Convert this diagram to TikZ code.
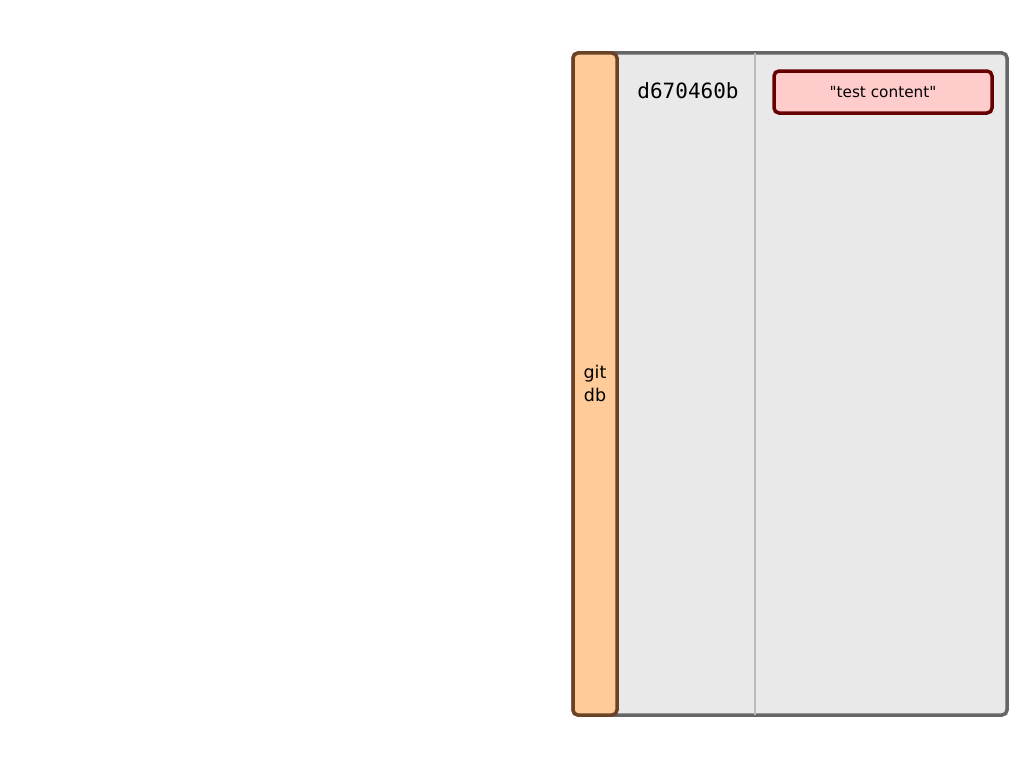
\documentclass[tikz,border=0pt]{standalone}
\usepackage{fontspec}
\setmainfont{DejaVu Sans}[Ligatures=TeXOff]
\newfontfamily\hashfont{DejaVu Sans Mono}
\definecolor{panelfill}{HTML}{E9E9E9}
\definecolor{panelline}{HTML}{666666}
\definecolor{barfill}{HTML}{FFCC99}
\definecolor{barline}{HTML}{6B4226}
\definecolor{blobfill}{HTML}{FFCCCC}
\definecolor{blobline}{HTML}{660000}
\definecolor{divline}{HTML}{BBBBBB}
\tikzset{
  panel/.style={draw=panelline, fill=panelfill, line width=3.5pt, rounded corners=5pt},
  dbbar/.style={draw=barline, fill=barfill, line width=3.5pt, rounded corners=5pt},
  blob/.style={draw=blobline, fill=blobfill, line width=3.5pt, rounded corners=5pt},
}
\begin{document}
\begin{tikzpicture}[x=1pt,y=-1pt]
\useasboundingbox (0,0) rectangle (1024,768);
\fill[white] (0,0) rectangle (1024,768);
\draw[panel] (573,53) rectangle (1007,715);
\draw[divline, line width=1.5pt] (755,53) -- (755,715);
\draw[dbbar] (573,53) rectangle (617,715);
\node[align=center, font=\fontsize{17.5}{23}\selectfont, inner sep=0pt] (db) at (595,383) {git\\db};
\node[font=\hashfont\fontsize{21}{24}\selectfont, inner sep=0pt] (hash) at (688,91) {d670460b};
\draw[blob] (774,71) rectangle (992,113);
\node[font=\fontsize{15.3}{18}\selectfont, inner sep=0pt] (content) at (883,92) {"test content"};
\end{tikzpicture}
\end{document}
